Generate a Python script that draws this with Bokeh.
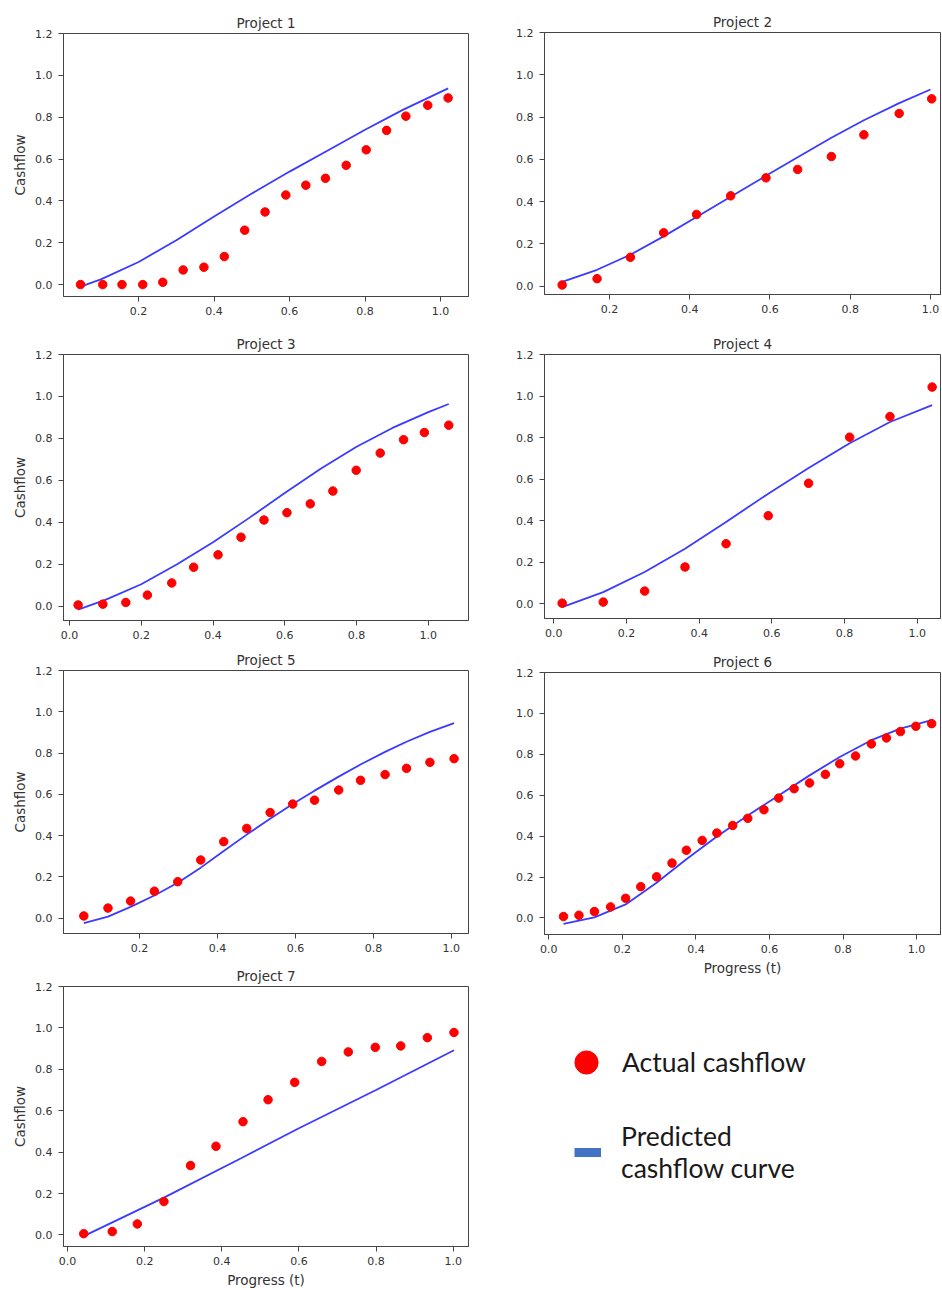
from bokeh.plotting import figure
from bokeh.layouts import row, column
from bokeh.models import Range1d, FixedTicker, PrintfTickFormatter, Legend, LegendItem
from bokeh.embed import file_html
from bokeh.resources import INLINE

# ---------------- data ----------------
x_ticks = [0.0, 0.2, 0.4, 0.6, 0.8, 1.0]
y_ticks = [0.0, 0.2, 0.4, 0.6, 0.8, 1.0, 1.2]

titles = ["Project 1", "Project 2", "Project 3", "Project 4", "Project 5", "Project 6", "Project 7"]
y_label = "Cashflow"
x_label = "Progress (t)"
legend_labels = ["Actual cashflow", "Predicted\ncashflow curve"]

p1_actual_x = [0.046, 0.105, 0.156, 0.211, 0.264, 0.318, 0.373, 0.427, 0.481, 0.535, 0.590, 0.643, 0.695, 0.750, 0.803, 0.857, 0.908, 0.966, 1.020]
p1_actual_y = [0.0, 0.0, 0.0, 0.0, 0.011, 0.070, 0.083, 0.134, 0.260, 0.347, 0.428, 0.475, 0.508, 0.570, 0.644, 0.737, 0.805, 0.857, 0.892]
p1_curve_x = [0.046, 0.1, 0.2, 0.3, 0.4, 0.5, 0.6, 0.7, 0.8, 0.9, 1.02]
p1_curve_y = [-0.01, 0.025, 0.108, 0.212, 0.325, 0.435, 0.54, 0.64, 0.74, 0.835, 0.938]

p2_actual_x = [0.082, 0.169, 0.252, 0.335, 0.417, 0.502, 0.590, 0.669, 0.753, 0.834, 0.922, 1.003]
p2_actual_y = [0.005, 0.035, 0.136, 0.252, 0.339, 0.427, 0.512, 0.552, 0.613, 0.716, 0.817, 0.886]
p2_curve_x = [0.082, 0.169, 0.252, 0.335, 0.417, 0.502, 0.59, 0.669, 0.753, 0.834, 0.922, 1.0]
p2_curve_y = [0.02, 0.077, 0.148, 0.235, 0.327, 0.423, 0.522, 0.61, 0.702, 0.785, 0.866, 0.93]

p3_actual_x = [0.024, 0.093, 0.157, 0.217, 0.285, 0.346, 0.414, 0.478, 0.542, 0.606, 0.671, 0.734, 0.799, 0.866, 0.931, 0.989, 1.057]
p3_actual_y = [0.006, 0.01, 0.018, 0.053, 0.111, 0.186, 0.245, 0.329, 0.411, 0.446, 0.488, 0.549, 0.648, 0.730, 0.794, 0.828, 0.863]
p3_curve_x = [0.024, 0.1, 0.2, 0.3, 0.4, 0.5, 0.6, 0.7, 0.8, 0.9, 1.0, 1.057]
p3_curve_y = [-0.016, 0.03, 0.105, 0.2, 0.305, 0.42, 0.54, 0.655, 0.76, 0.85, 0.925, 0.964]

p4_actual_x = [0.023, 0.136, 0.25, 0.361, 0.474, 0.590, 0.701, 0.814, 0.925, 1.041]
p4_actual_y = [0.003, 0.008, 0.061, 0.177, 0.289, 0.424, 0.580, 0.802, 0.901, 1.043]
p4_curve_x = [0.023, 0.136, 0.25, 0.361, 0.474, 0.59, 0.70, 0.814, 0.925, 1.041]
p4_curve_y = [-0.016, 0.056, 0.153, 0.265, 0.394, 0.53, 0.652, 0.773, 0.875, 0.956]

p5_actual_x = [0.057, 0.119, 0.177, 0.238, 0.298, 0.357, 0.416, 0.475, 0.535, 0.593, 0.649, 0.711, 0.767, 0.830, 0.885, 0.945, 1.007]
p5_actual_y = [0.011, 0.049, 0.083, 0.131, 0.177, 0.282, 0.371, 0.435, 0.512, 0.553, 0.572, 0.621, 0.668, 0.696, 0.726, 0.755, 0.773]
p5_curve_x = [0.057, 0.119, 0.177, 0.238, 0.298, 0.357, 0.416, 0.475, 0.535, 0.593, 0.649, 0.711, 0.767, 0.830, 0.885, 0.945, 1.007]
p5_curve_y = [-0.024, 0.008, 0.055, 0.11, 0.172, 0.245, 0.326, 0.405, 0.482, 0.553, 0.618, 0.686, 0.745, 0.806, 0.855, 0.903, 0.945]

p6_actual_x = [0.040, 0.082, 0.124, 0.168, 0.209, 0.250, 0.293, 0.335, 0.374, 0.417, 0.457, 0.5, 0.541, 0.585, 0.625, 0.667, 0.709, 0.752, 0.791, 0.834, 0.877, 0.918, 0.956, 0.998, 1.041]
p6_actual_y = [0.007, 0.013, 0.031, 0.054, 0.096, 0.153, 0.201, 0.268, 0.331, 0.379, 0.415, 0.452, 0.487, 0.529, 0.586, 0.632, 0.660, 0.702, 0.754, 0.792, 0.851, 0.880, 0.911, 0.937, 0.950]
p6_curve_x = [0.04, 0.124, 0.209, 0.293, 0.374, 0.457, 0.541, 0.625, 0.709, 0.791, 0.877, 0.956, 1.041]
p6_curve_y = [-0.029, 0.003, 0.066, 0.172, 0.287, 0.398, 0.501, 0.599, 0.697, 0.787, 0.869, 0.926, 0.967]

p7_actual_x = [0.042, 0.116, 0.181, 0.25, 0.319, 0.385, 0.455, 0.520, 0.589, 0.659, 0.728, 0.798, 0.864, 0.933, 1.002]
p7_actual_y = [0.006, 0.016, 0.053, 0.161, 0.335, 0.428, 0.547, 0.653, 0.737, 0.838, 0.884, 0.906, 0.913, 0.953, 0.978]
p7_curve_x = [0.042, 0.25, 0.45, 0.6, 0.8, 1.002]
p7_curve_y = [-0.006, 0.18, 0.37, 0.515, 0.70, 0.892]

# ---------------- style ----------------
FONT = "DejaVu Sans"
AX = "#444444"
TXT = "#333333"
RED = "#ff0000"
BLUE = "#2626ff"

LEFT_W, RIGHT_W = 490, 452


def panel(title, ax, ay, cx, cy, xr, yr, w, h, bl, br, bt, bb, ylab=False, xlab=False):
    p = figure(width=w, height=h, x_range=Range1d(*xr), y_range=Range1d(*yr),
               output_backend="svg", toolbar_location=None, title=title,
               min_border_left=bl, min_border_right=br, min_border_top=bt, min_border_bottom=bb)
    p.title.align = "center"
    p.title.text_font = FONT
    p.title.text_font_size = "13.5px"
    p.title.text_font_style = "normal"
    p.title.text_color = TXT
    p.title.standoff = 6
    p.title.offset = 0
    p.grid.visible = False
    p.outline_line_color = AX
    p.outline_line_width = 1
    for axis, ticks in ((p.xaxis, x_ticks), (p.yaxis, y_ticks)):
        axis.ticker = FixedTicker(ticks=ticks)
        axis.formatter = PrintfTickFormatter(format="%.1f")
        axis.minor_tick_line_color = None
        axis.major_tick_out = 5
        axis.major_tick_in = 0
        axis.major_tick_line_color = AX
        axis.axis_line_color = AX
        axis.major_label_text_font = FONT
        axis.major_label_text_font_size = "11px"
        axis.major_label_text_color = TXT
        axis.axis_label_text_font = FONT
        axis.axis_label_text_font_size = "13.5px"
        axis.axis_label_text_font_style = "normal"
        axis.axis_label_text_color = TXT
    p.xaxis.major_label_standoff = 5
    p.yaxis.major_label_standoff = 6
    p.yaxis.axis_label_standoff = 4
    p.xaxis.axis_label_standoff = 4
    if ylab:
        p.yaxis.axis_label = y_label
    if xlab:
        p.xaxis.axis_label = x_label
    p.line(cx, cy, line_color=BLUE, line_width=1.8, line_alpha=0.9)
    p.scatter(ax, ay, marker="circle", size=8.5, fill_color=RED, line_color=RED)
    return p


# left column: frames share left edge 63 and right edge 468
p1 = panel(titles[0], p1_actual_x, p1_actual_y, p1_curve_x, p1_curve_y, (0.001, 1.074), (-0.057, 1.2),
           LEFT_W, 325, 63, 22, 33, 29, ylab=True)
p3 = panel(titles[2], p3_actual_x, p3_actual_y, p3_curve_x, p3_curve_y, (-0.0167, 1.112), (-0.068, 1.2),
           LEFT_W, 318, 63, 22, 29, 23, ylab=True)
p5 = panel(titles[4], p5_actual_x, p5_actual_y, p5_curve_x, p5_curve_y, (0.0049, 1.044), (-0.074, 1.2),
           LEFT_W, 315, 63, 22, 27, 25, ylab=True)
p7 = panel(titles[6], p7_actual_x, p7_actual_y, p7_curve_x, p7_curve_y, (-0.0104, 1.0397), (-0.056, 1.2),
           LEFT_W, 332, 63, 22, 28, 41, ylab=True, xlab=True)

# right column: frames share left edge 544 and right edge 940
p2 = panel(titles[1], p2_actual_x, p2_actual_y, p2_curve_x, p2_curve_y, (0.038, 1.025), (-0.04, 1.2),
           RIGHT_W, 325, 54, 2, 32, 31)
p4 = panel(titles[3], p4_actual_x, p4_actual_y, p4_curve_x, p4_curve_y, (-0.0256, 1.064), (-0.071, 1.2),
           RIGHT_W, 318, 54, 2, 29, 25)
p6 = panel(titles[5], p6_actual_x, p6_actual_y, p6_curve_x, p6_curve_y, (-0.0117, 1.065), (-0.081, 1.2),
           RIGHT_W, 347, 54, 2, 29, 56, xlab=True)

# legend panel
pl = figure(width=RIGHT_W, height=300, output_backend="svg", toolbar_location=None,
            min_border_left=54, min_border_right=2, min_border_top=0, min_border_bottom=0,
            x_range=Range1d(0, 1), y_range=Range1d(0, 1))
pl.axis.visible = False
pl.grid.visible = False
pl.outline_line_color = None
# off-screen stand-in renderers that only supply the legend glyph styles
r_act = pl.scatter([-5], [-5], marker="circle", size=8, fill_color=RED, line_color=RED)
r_pred = pl.line([-5, -4], [-5, -5], line_color="#4472C4", line_width=9)

leg1 = Legend(items=[LegendItem(label=legend_labels[0], renderers=[r_act])], location=(13, 199),
              glyph_width=58, glyph_height=58, label_standoff=7, padding=0, margin=0,
              border_line_color=None, background_fill_alpha=0,
              label_text_font="Lato", label_text_font_size="26.5px", label_text_color="#1a1a1a")
leg2 = Legend(items=[LegendItem(label=legend_labels[1], renderers=[r_pred])], location=(30, 106),
              glyph_width=27, glyph_height=20, label_standoff=20, padding=0, margin=0,
              border_line_color=None, background_fill_alpha=0,
              label_text_font="Lato", label_text_font_size="26.5px", label_text_color="#1a1a1a",
              label_text_line_height=1.3)
pl.add_layout(leg1, "center")
pl.add_layout(leg2, "center")

layout = row(column(p1, p3, p5, p7), column(p2, p4, p6, pl))

open("out.html", "w").write(file_html(layout, INLINE))
